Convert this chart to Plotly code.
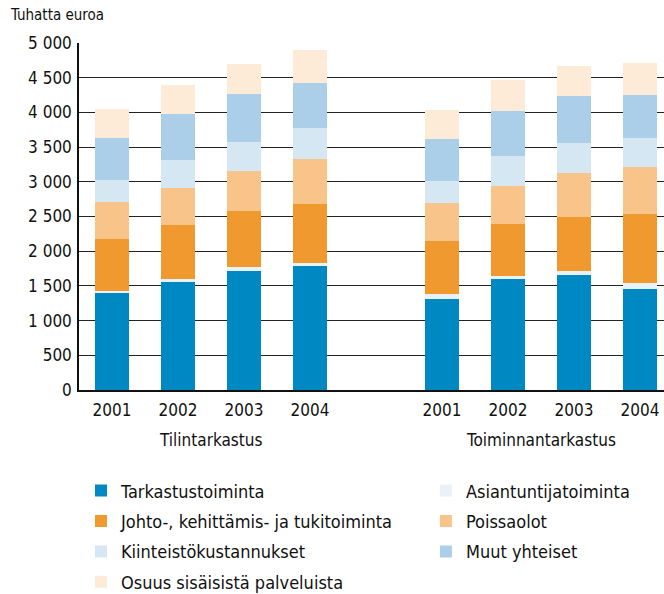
import plotly.graph_objects as go

# ---- data ----
groups = ["Tilintarkastus", "Toiminnantarkastus"]
years = ["2001", "2002", "2003", "2004"]

series_names = [
    "Tarkastustoiminta",
    "Asiantuntijatoiminta",
    "Johto-, kehittämis- ja tukitoiminta",
    "Poissaolot",
    "Kiinteistökustannukset",
    "Muut yhteiset",
    "Osuus sisäisistä palveluista",
]
# values: first 4 = Tilintarkastus 2001-2004, last 4 = Toiminnantarkastus 2001-2004
tarkastustoiminta = [1400, 1560, 1715, 1790, 1315, 1600, 1660, 1455]
asiantuntijatoiminta = [20, 40, 60, 45, 70, 45, 60, 85]
johto = [760, 780, 805, 850, 765, 750, 775, 995]
poissaolot = [535, 535, 575, 650, 550, 550, 635, 680]
kiinteisto = [315, 405, 420, 445, 315, 420, 430, 420]
muut_yhteiset = [605, 650, 690, 650, 605, 650, 680, 620]
osuus = [420, 430, 435, 475, 420, 445, 430, 460]

y_ticks = [0, 500, 1000, 1500, 2000, 2500, 3000, 3500, 4000, 4500, 5000]
y_title = "Tuhatta euroa"

series_values = [tarkastustoiminta, asiantuntijatoiminta, johto, poissaolot,
                 kiinteisto, muut_yhteiset, osuus]
colors = ["#0088c2", "#eaf2f9", "#f0992e", "#f8c48a", "#d5e7f3", "#abcfe8", "#fdebd8"]
# legend column for each series (left column / right column, as in the reference)
legend_column = ["legend", "legend2", "legend", "legend2", "legend", "legend2", "legend"]

# x positions: one empty slot between the groups
positions = []
labels = []
for gi, g in enumerate(groups):
    for yi, yr in enumerate(years):
        positions.append(gi * (len(years) + 1) + yi)
        labels.append(yr)

FONT = "DejaVu Sans Condensed, Liberation Sans Narrow, Arial Narrow, sans-serif"
INK = "#111111"

fig = go.Figure()
for name, vals, col, leg in zip(series_names, series_values, colors, legend_column):
    fig.add_trace(go.Bar(
        x=positions, y=vals, name=name, legend=leg, legendgroup=name,
        marker=dict(color=col, line=dict(width=0)),
        hoverinfo="name+y",
    ))

boundaries = [p + 0.5 for p in range(positions[0], positions[-1])]

legend_common = dict(
    orientation="v", yanchor="top", y=-0.2375, xanchor="left",
    font=dict(size=18, family=FONT, color=INK),
    traceorder="grouped", tracegroupgap=4,
    itemclick=False, itemdoubleclick=False,
    bgcolor="rgba(0,0,0,0)",
)

fig.update_layout(
    width=664, height=594,
    barmode="stack", bargap=0.485,
    plot_bgcolor="white", paper_bgcolor="white",
    margin=dict(l=79, r=0, t=43, b=204, autoexpand=False),
    separators=", ",
    font=dict(family=FONT, color=INK, size=17),
    xaxis=dict(
        range=[-0.5, 8.364],
        tickmode="array", tickvals=positions, ticktext=labels,
        ticks="", showgrid=False, zeroline=False, ticklabelstandoff=4,
        showline=True, linecolor=INK, linewidth=1.5,
        tickfont=dict(size=17, family=FONT, color=INK),
    ),
    xaxis2=dict(
        overlaying="x", matches="x", anchor="y", side="bottom",
        range=[-0.5, 8.364],
        tickmode="array", tickvals=boundaries,
        ticks="inside", ticklen=5, tickwidth=1, tickcolor=INK,
        showticklabels=False, showgrid=False, zeroline=False, showline=False,
    ),
    yaxis=dict(
        range=[0, 5000],
        tickmode="array", tickvals=y_ticks, tickformat=",d",
        ticks="", ticklabelstandoff=2,
        showgrid=True, gridcolor="#222222", gridwidth=1,
        zeroline=False,
        showline=True, linecolor=INK, linewidth=1.5,
        tickfont=dict(size=17, family=FONT, color=INK),
    ),
    legend=dict(x=0.0034, **legend_common),
    legend2=dict(x=0.593, **legend_common),
    showlegend=True,
)

fig.add_annotation(
    text=y_title, xref="paper", yref="paper", x=-0.1214, y=1.0807,
    xanchor="left", yanchor="middle", showarrow=False,
    font=dict(size=15, family=FONT, color=INK),
)

for gi, g in enumerate(groups):
    gpos = positions[gi * len(years):(gi + 1) * len(years)]
    fig.add_annotation(
        text=g, xref="x", yref="paper", x=sum(gpos) / len(gpos), y=0,
        xanchor="center", yanchor="middle", yshift=-50, showarrow=False,
        font=dict(size=17, family=FONT, color=INK),
    )

fig.write_html(
    "out.html",
    config={"displayModeBar": False},
    post_script="document.body.style.margin='0';document.body.style.overflow='hidden';",
)
